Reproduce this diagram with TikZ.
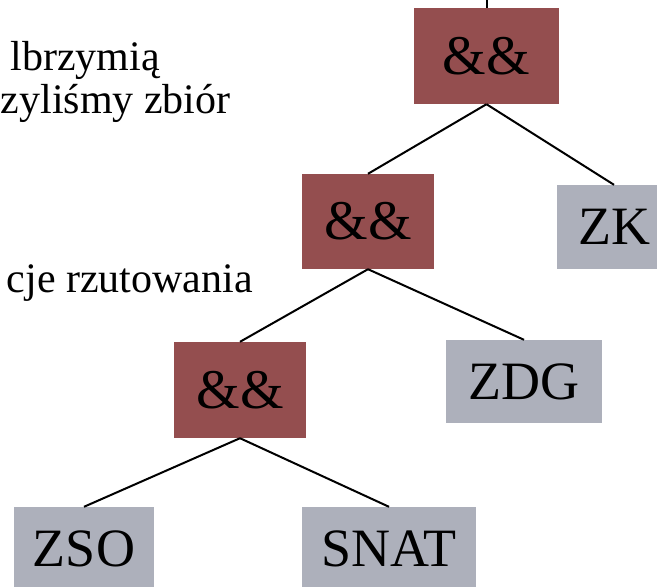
\documentclass[tikz,border=0pt]{standalone}
\usepackage{fontspec}
\setmainfont{Liberation Serif}
\definecolor{opred}{RGB}{148,78,79}
\definecolor{leafgray}{RGB}{173,176,187}
\tikzset{
  opbox/.style={fill=opred, inner sep=0pt, minimum width=132pt, minimum height=96pt, font=\fontsize{56}{60}\selectfont},
  leafbox/.style={fill=leafgray, inner sep=0pt, minimum height=84pt, font=\fontsize{54}{60}\selectfont},
  edge/.style={line width=2pt, black},
  sidetext/.style={anchor=base east, inner sep=0pt, font=\fontsize{42}{50}\selectfont}
}
\begin{document}
\begin{tikzpicture}[x=1pt,y=-1pt]
\useasboundingbox (0,0) rectangle (657,587);
\clip (0,0) rectangle (657,587);
% left text fragments
\node[sidetext] (t1) at (160,70) {lbrzymią};
\node[sidetext, anchor=base west] (t2) at (0.5,113) {zyliśmy zbiór};
\node[sidetext] (t3) at (253,292) {cje rzutowania};
% tree nodes
\node[opbox, minimum width=145pt] (and1) at (486.5,56) {\&\&};
\node[opbox, minimum height=95pt] (and2) at (368,221.5) {\&\&};
\node[opbox] (and3) at (240,390) {\&\&};
\node[leafbox, minimum width=114pt] (zk) at (614,227) {ZK};
\node[leafbox, minimum width=156pt, minimum height=83pt] (zdg) at (524,381.5) {ZDG};
\node[leafbox, minimum width=140pt] (zso) at (84,549) {ZSO};
\node[leafbox, minimum width=174pt] (snat) at (389,549) {SNAT};
\coordinate (topend) at (486.5,-5);
% connectors
\draw[edge] (topend) -- (and1.north);
\draw[edge] (and1.south) -- (and2.north);
\draw[edge] (and1.south) -- (zk.north);
\draw[edge] (and2.south) -- (and3.north);
\draw[edge] (and2.south) -- (zdg.north);
\draw[edge] (and3.south) -- (zso.north);
\draw[edge] (and3.south) -- (snat.north);
\end{tikzpicture}
\end{document}
